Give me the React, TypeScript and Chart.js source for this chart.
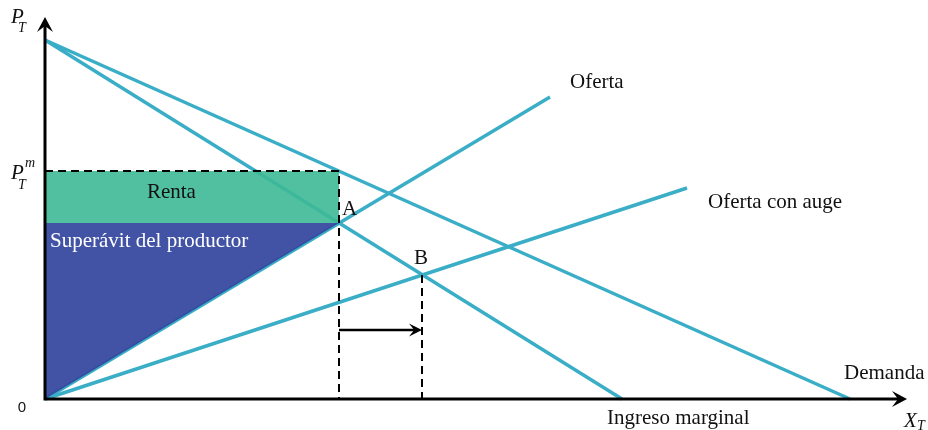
import React, { useEffect, useRef } from "react";
import { Chart, registerables } from "chart.js";

Chart.register(...registerables);

// Axis extents (data units)
const X_MAX = 86.2;
const Y_MAX = 38.2;

// Curves: [x0, x1] and [y0, y1]
const demandX = [0, 80.5];
const demandY = [35.9, 0];
const mrX = [0, 57.7];
const mrY = [35.9, 0];
const supplyX = [0, 50.5];
const supplyY = [0, 30.2];
const boomX = [0, 64.2];
const boomY = [0, 21.1];

// Key points
const pointA = [29.4, 17.6];
const pointB = [37.7, 12.4];
const monopolyPrice = 22.8;
const shiftArrowY = 6.9;

const LINE = "#3aadc7";
const RENT = "rgba(62,185,150,0.9)";
const SURPLUS = "rgba(52,70,158,0.93)";

const seg = (xs: number[], ys: number[]) => xs.map((x, i) => ({ x, y: ys[i] }));

function arrowHead(ctx: CanvasRenderingContext2D, tx: number, ty: number, angle: number, len: number, half: number) {
  ctx.save();
  ctx.translate(tx, ty);
  ctx.rotate(angle);
  ctx.beginPath();
  ctx.moveTo(0, 0);
  ctx.lineTo(-len, -half);
  ctx.lineTo(-len * 0.6, 0);
  ctx.lineTo(-len, half);
  ctx.closePath();
  ctx.fill();
  ctx.restore();
}

const overlay = {
  id: "overlay",
  afterDatasetsDraw(chart: any) {
    const { ctx, scales } = chart;
    const px = (v: number) => scales.x.getPixelForValue(v);
    const py = (v: number) => scales.y.getPixelForValue(v);
    ctx.save();
    ctx.strokeStyle = "#000";
    ctx.fillStyle = "#000";
    ctx.lineWidth = 3;
    ctx.lineCap = "butt";
    // axes
    ctx.beginPath();
    ctx.moveTo(px(0), py(0));
    ctx.lineTo(px(X_MAX) - 6, py(0));
    ctx.moveTo(px(0), py(0) + 1.5);
    ctx.lineTo(px(0), py(Y_MAX) + 6);
    ctx.stroke();
    arrowHead(ctx, px(X_MAX), py(0), 0, 15, 8);
    arrowHead(ctx, px(0), py(Y_MAX), -Math.PI / 2, 15, 8);
    // shift arrow head
    arrowHead(ctx, px(pointB[0]), py(shiftArrowY), 0, 13, 6.5);

    // texts
    const serif = "'Liberation Serif', 'Times New Roman', serif";
    ctx.textBaseline = "middle";
    ctx.fillStyle = "#111";
    ctx.font = `21px ${serif}`;
    ctx.textAlign = "left";
    ctx.fillText("Oferta", px(supplyX[1]) + 20, py(supplyY[1]) - 15);
    ctx.fillText("Oferta con auge", px(boomX[1]) + 21, py(boomY[1]) + 14);
    ctx.fillText("Demanda", px(demandX[1]) - 6, py(0) - 26);
    ctx.fillText("Ingreso marginal", px(mrX[1]) - 15, py(0) + 19);
    ctx.fillText("A", px(pointA[0]) + 3, py(pointA[1]) - 14);
    ctx.textAlign = "center";
    ctx.fillText("B", px(pointB[0]) - 1, py(pointB[1]) - 17);
    ctx.fillText("Renta", px(pointA[0] * 0.43), py((monopolyPrice + pointA[1]) / 2) - 5);
    ctx.textAlign = "left";
    ctx.fillStyle = "#fff";
    ctx.fillText("Superávit del productor", px(0) + 5, py(pointA[1]) + 18);

    // axis labels
    ctx.fillStyle = "#111";
    ctx.font = `italic 21px ${serif}`;
    ctx.fillText("P", 11, 17);
    ctx.fillText("P", 11, 173);
    ctx.fillText("X", 904, 421);
    ctx.font = `italic 14px ${serif}`;
    ctx.fillText("T", 18, 28);
    ctx.fillText("T", 18, 185);
    ctx.fillText("T", 917, 426);
    ctx.fillText("m", 25, 163);
    ctx.font = "15px 'Liberation Sans', Arial, sans-serif";
    ctx.textAlign = "center";
    ctx.fillText("0", 22, 408);
    ctx.restore();
  },
};

export default function App() {
  const ref = useRef<HTMLCanvasElement>(null);
  useEffect(() => {
    if (!ref.current) return;
    const lineDs = (data: any[]) => ({
      data,
      borderColor: LINE,
      borderWidth: 3.5,
      pointRadius: 0,
      fill: false,
      order: 3,
      clip: false as any,
    });
    const dashDs = (data: any[]) => ({
      data,
      borderColor: "#000",
      borderWidth: 2,
      borderDash: [8, 5],
      pointRadius: 0,
      fill: false,
      order: 1,
      clip: false as any,
    });
    const chart = new Chart(ref.current, {
      type: "line",
      data: {
        datasets: [
          lineDs(seg(demandX, demandY)),
          lineDs(seg(mrX, mrY)),
          lineDs(seg(supplyX, supplyY)),
          lineDs(seg(boomX, boomY)),
          {
            data: [
              { x: 0, y: monopolyPrice },
              { x: pointA[0], y: monopolyPrice },
              { x: pointA[0], y: pointA[1] },
              { x: 0, y: pointA[1] },
              { x: 0, y: monopolyPrice },
            ],
            borderWidth: 0,
            borderColor: "transparent",
            backgroundColor: RENT,
            pointRadius: 0,
            fill: "shape",
            order: 2,
            clip: false as any,
          } as any,
          {
            data: [
              { x: 0, y: 0 },
              { x: pointA[0], y: pointA[1] },
              { x: 0, y: pointA[1] },
              { x: 0, y: 0 },
            ],
            borderWidth: 0,
            borderColor: "transparent",
            backgroundColor: SURPLUS,
            pointRadius: 0,
            fill: "shape",
            order: 2,
            clip: false as any,
          } as any,
          dashDs([
            { x: 0, y: monopolyPrice },
            { x: pointA[0], y: monopolyPrice },
            { x: pointA[0], y: 0 },
          ]),
          dashDs([
            { x: pointB[0], y: pointB[1] },
            { x: pointB[0], y: 0 },
          ]),
          {
            data: [
              { x: pointA[0], y: shiftArrowY },
              { x: pointB[0] - 0.6, y: shiftArrowY },
            ],
            borderColor: "#000",
            borderWidth: 2.5,
            pointRadius: 0,
            fill: false,
            order: 1,
            clip: false as any,
          } as any,
        ],
      },
      options: {
        animation: false,
        responsive: false,
        parsing: true,
        layout: { padding: { left: 45, right: 928 - 907, top: 17, bottom: 430 - 399 } },
        plugins: { legend: { display: false }, tooltip: { enabled: false } },
        elements: { line: { tension: 0 } },
        scales: {
          x: { type: "linear", min: 0, max: X_MAX, display: false },
          y: { type: "linear", min: 0, max: Y_MAX, display: false },
        },
      },
      plugins: [overlay],
    });
    return () => chart.destroy();
  }, []);
  return (
    <div style={{ position: "fixed", left: 0, top: 0, width: 928, height: 430, background: "#fff" }}>
      <canvas ref={ref} width={928} height={430} style={{ display: "block" }} />
    </div>
  );
}
